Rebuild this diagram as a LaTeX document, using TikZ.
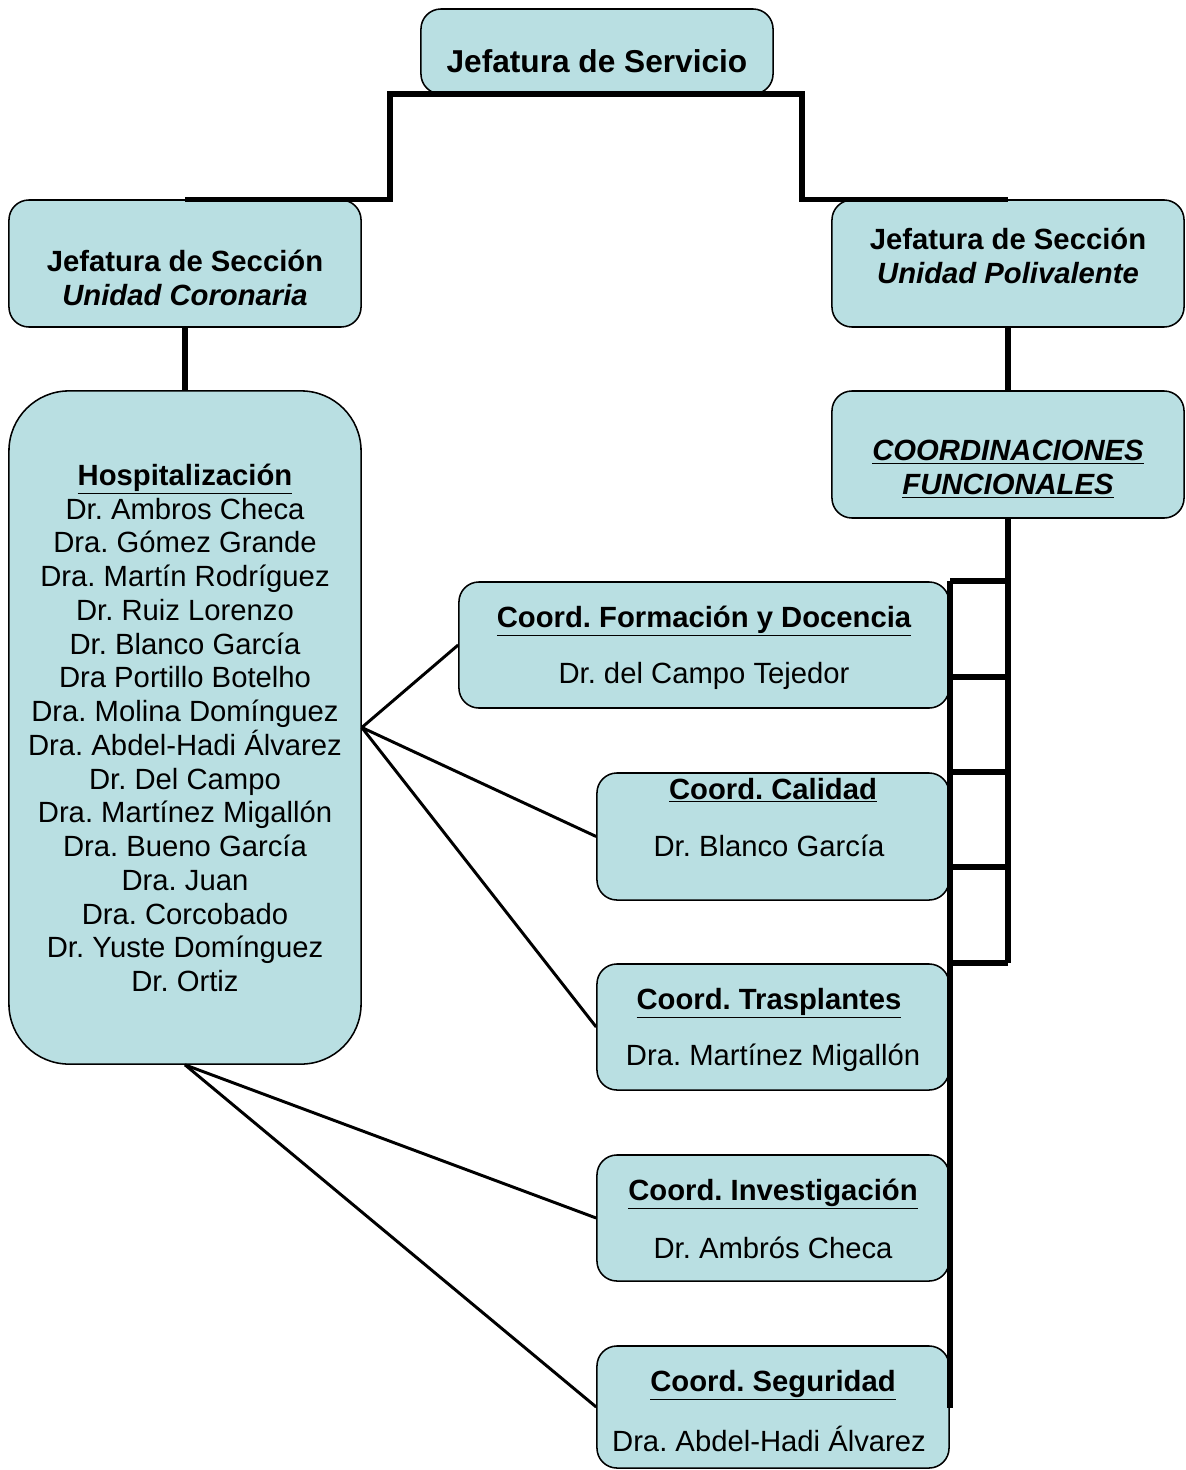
\documentclass[tikz,border=0pt]{standalone}
\usepackage{fontspec}
\setmainfont{Liberation Sans}
\definecolor{boxfill}{HTML}{B9DFE2}
\frenchspacing
\begin{document}
\frenchspacing
\begin{tikzpicture}[x=0.025cm,y=-0.025cm,
 box/.style={draw=black,line width=1.1pt,fill=boxfill,rounded corners=0.5cm,inner sep=0pt},
 txt/.style={font=\fontsize{20.8}{24.2}\selectfont,align=center,inner sep=0pt},
 bigtxt/.style={font=\fontsize{22.5}{26}\selectfont\bfseries,align=center,inner sep=0pt},
 thickline/.style={line width=3.6pt},
 thinline/.style={line width=2.1pt}]
\useasboundingbox (0,0) rectangle (1185,1470);

% boxes
\node[box,minimum width=8.8cm,minimum height=2.125cm] (js) at (597,51.5) {};
\node[box,minimum width=8.8cm,minimum height=3.175cm] (ljs) at (185,263.5) {};
\node[box,minimum width=8.8cm,minimum height=3.175cm] (rjs) at (1008,263.5) {};
\node[box,rounded corners=1.5cm,minimum width=8.8cm,minimum height=16.825cm] (hosp) at (185,727.5) {};
\node[box,minimum width=8.8cm,minimum height=3.175cm] (coord) at (1008,454.5) {};
\node[box,minimum width=12.25cm,minimum height=3.15cm] (form) at (704,645) {};
\node[box,minimum width=8.8cm,minimum height=3.175cm] (cal) at (773,836.5) {};
\node[box,minimum width=8.8cm,minimum height=3.15cm] (trasp) at (773,1027) {};
\node[box,minimum width=8.8cm,minimum height=3.15cm] (inv) at (773,1218) {};
\node[box,minimum width=8.8cm,minimum height=3.05cm] (seg) at (773,1407) {};

% texts
\node[bigtxt] (tjs) at (597,61) {Jefatura de Servicio};
\node[txt] (tljs) at (185,278) {\textbf{Jefatura de Sección}\\\textbf{\itshape Unidad Coronaria}};
\node[txt] (trjs) at (1008,256) {\textbf{Jefatura de Sección}\\\textbf{\itshape Unidad Polivalente}};
\node[txt] (tcoord) at (1008,469) {\textbf{\itshape\underline{COORDINACIONES}}\\\textbf{\itshape\underline{FUNCIONALES}}};
\node[txt] (thosp) at (185,728) {%
\textbf{\underline{Hospitalización}}\\[-0.2pt]
Dr. Ambros Checa\\[-0.2pt]
Dra. Gómez Grande\\[-0.2pt]
Dra. Martín Rodríguez\\[-0.2pt]
Dr. Ruiz Lorenzo\\[-0.2pt]
Dr. Blanco García\\[-0.2pt]
Dra Portillo Botelho\\[-0.2pt]
Dra. Molina Domínguez\\[-0.2pt]
Dra. Abdel-Hadi Álvarez\\[-0.2pt]
Dr. Del Campo\\[-0.2pt]
Dra. Martínez Migallón\\[-0.2pt]
Dra. Bueno García\\[-0.2pt]
Dra. Juan\\[-0.2pt]
Dra. Corcobado\\[-0.2pt]
Dr. Yuste Domínguez\\[-0.2pt]
Dr. Ortiz};

\node[txt] (tform1) at (704,621) {\textbf{\underline{Coord. Formación y Docencia}}};
\node[txt] (tform2) at (704,676) {Dr. del Campo Tejedor};
\node[txt] (tcal1) at (773,790) {\textbf{\underline{Coord. Calidad}}};
\node[txt] (tcal2) at (769,846) {Dr. Blanco García};
\node[txt] (ttr1) at (769,1003) {\textbf{\underline{Coord. Trasplantes}}};
\node[txt] (ttr2) at (773,1058) {Dra. Martínez Migallón};
\node[txt] (tinv1) at (773,1194) {\textbf{\underline{Coord. Investigación}}};
\node[txt] (tinv2) at (773,1248) {Dr. Ambrós Checa};
\node[txt] (tseg1) at (773,1385) {\textbf{\underline{Coord. Seguridad}}};
\node[txt] (tseg2) at (769,1439) {Dra. Abdel-Hadi Álvarez};

% coordinates for connectors
\coordinate (ta) at (390,94);
\coordinate (tb) at (802,94);
\coordinate (h1) at (950,581);
\coordinate (h2) at (950,677);
\coordinate (h3) at (950,772);
\coordinate (h4) at (950,867);
\coordinate (h5) at (950,963);
\coordinate (vb) at (950,1408);
\coordinate (r1) at (1008,581);
\coordinate (r2) at (1008,677);
\coordinate (r3) at (1008,772);
\coordinate (r4) at (1008,867);
\coordinate (r5) at (1008,963);

% connectors
\draw[thickline] (ljs.north) -| (ta) -- (tb) |- (rjs.north);
\draw[thickline] (ljs.south) -- (hosp.north);
\draw[thickline] (rjs.south) -- (coord.north);
\draw[thickline] (coord.south) -- (r5);
\draw[thickline] (h1) -- (vb);
\draw[thickline] (h1) -- (r1);
\draw[thickline] (h2) -- (r2);
\draw[thickline] (h3) -- (r3);
\draw[thickline] (h4) -- (r4);
\draw[thickline] (h5) -- (r5);

\draw[thinline] (hosp.east) -- (form.west);
\draw[thinline] (hosp.east) -- (cal.west);
\draw[thinline] (hosp.east) -- (trasp.west);
\draw[thinline] (hosp.south) -- (inv.west);
\draw[thinline] (hosp.south) -- (seg.west);
\end{tikzpicture}
\end{document}
